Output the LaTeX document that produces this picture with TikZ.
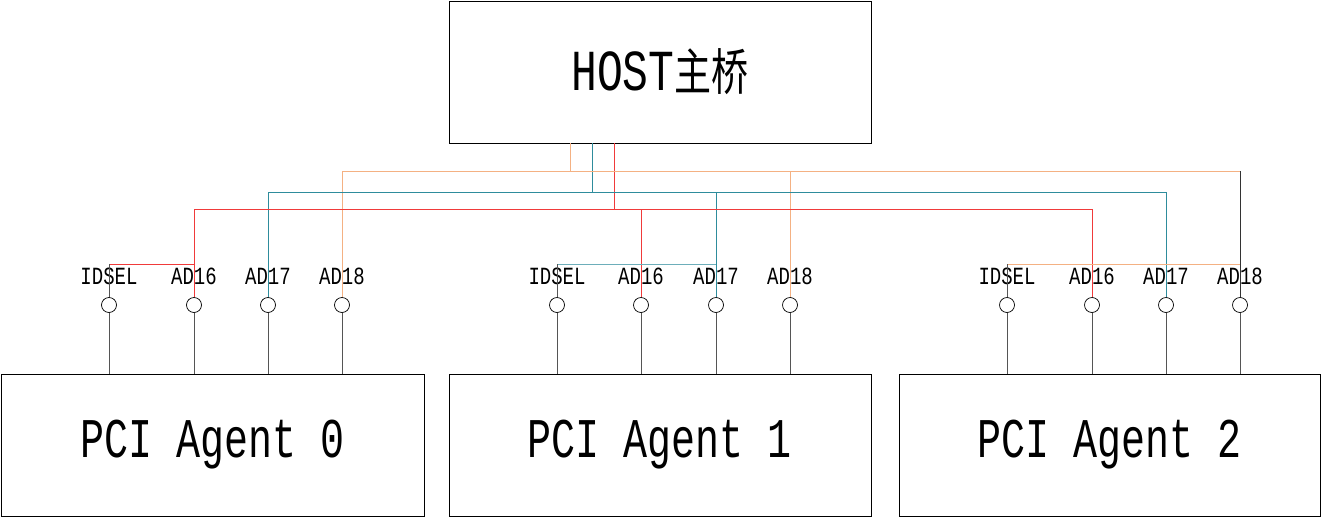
\documentclass[tikz,border=0pt]{standalone}
\usepackage{fontspec}
\setmainfont{Liberation Mono}
\newfontfamily\cjk{Noto Sans CJK SC}
\definecolor{cred}{HTML}{F03A3A}
\definecolor{cteal}{HTML}{2E8C9C}
\definecolor{corange}{HTML}{F4B183}
\definecolor{cgray}{HTML}{555555}
\begin{document}
\begin{tikzpicture}[x=1pt,y=-1pt,
  box/.style={draw,line width=0.8pt,minimum width=#1,minimum height=142pt,inner sep=0pt},
  pin/.style={draw,circle,minimum size=15pt,inner sep=0pt,line width=0.7pt},
  lbl/.style={font=\fontsize{19}{19}\selectfont,inner sep=0pt},
  wire/.style={line width=0.9pt}]
\useasboundingbox (0,0) rectangle (1323,517);
\node[box=422pt] (host) at (660,72) {\scalebox{1}[1.35]{\fontsize{43}{43}\selectfont HOST{\cjk\fontsize{37}{37}\selectfont 主桥}}};
\node[box=423pt] (a0) at (212.5,445) {\scalebox{1}[1.4]{\fontsize{40}{40}\selectfont PCI Agent 0}};
\node[box=422pt] (a1) at (660,445) {\scalebox{1}[1.4]{\fontsize{40}{40}\selectfont PCI Agent 1}};
\node[box=421pt] (a2) at (1109.5,445) {\scalebox{1}[1.4]{\fontsize{40}{40}\selectfont PCI Agent 2}};
\foreach \n/\xa/\xb/\xc/\xd/\b in {0/109/194/268/342/a0,1/557/641/716/790/a1,2/1007/1092/1166/1240/a2}{
  \node[pin] (p\n i) at (\xa,305) {};
  \node[pin] (p\n a) at (\xb,305) {};
  \node[pin] (p\n b) at (\xc,305) {};
  \node[pin] (p\n c) at (\xd,305) {};
  \node[lbl] (l\n i) at (\xa,276) {\scalebox{1}[1.3]{IDSEL}};
  \node[lbl] (l\n a) at (\xb,276) {\scalebox{1}[1.3]{AD16}};
  \node[lbl] (l\n b) at (\xc,276) {\scalebox{1}[1.3]{AD17}};
  \node[lbl] (l\n c) at (\xd,276) {\scalebox{1}[1.3]{AD18}};
  \foreach \p in {i,a,b,c}{\draw[cgray,line width=0.9pt] (p\n\p.south) -- (p\n\p.south |- \b.north);}
}
% host taps
\coordinate (ho) at (570,171); \coordinate (ht) at (592,192); \coordinate (hr) at (614,209);
\draw[wire,corange] (host.south -| ho) -- (ho);
\draw[wire,cteal] (host.south -| ht) -- (ht);
\draw[wire,cred] (host.south -| hr) -- (hr);
% orange bus
\draw[wire,corange] (p0c.north) -- (p0c.north |- ho) -- (ho -| p2c);
\draw[wire,corange] (ho -| p1c) -- (p1c.north);
\draw[wire,black!80] (ho -| p2c) -- (p2c.north);
% teal bus
\draw[wire,cteal] (p0b.north) -- (p0b.north |- ht) -- (ht -| p2b) -- (p2b.north);
\draw[wire,cteal] (ht -| p1b) -- (p1b.north);
% red bus
\draw[wire,cred] (p0a.north) -- (p0a.north |- hr) -- (hr -| p2a) -- (p2a.north);
\draw[wire,cred] (hr -| p1a) -- (p1a.north);
% IDSEL straps
\coordinate (s) at (0,264);
\draw[wire,cred] (s -| p0i) -- (s -| p0a);
\draw[wire,cgray] (s -| p0i) -- (p0i.north);
\draw[wire,cteal!70] (s -| p1i) -- (s -| p1b);
\draw[wire,cgray] (s -| p1i) -- (p1i.north);
\draw[wire,corange] (s -| p2i) -- (s -| p2c);
\draw[wire,cgray] (s -| p2i) -- (p2i.north);
\end{tikzpicture}
\end{document}
